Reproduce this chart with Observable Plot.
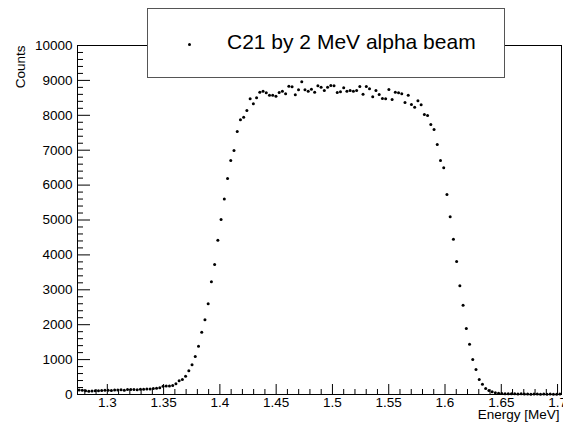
<!DOCTYPE html>
<html>
<head>
<meta charset="utf-8">
<script src="https://cdn.jsdelivr.net/npm/d3@7"></script>
<script src="https://cdn.jsdelivr.net/npm/@observablehq/plot@0.6"></script>
<style>
  html, body { margin: 0; padding: 0; background: #fff; overflow: hidden; }
  #wrap { position: relative; width: 563px; height: 425px; font-family: "Liberation Sans", Arial, sans-serif; }
  #legend { position: absolute; left: 147px; top: 8px; width: 358px; height: 70px; box-sizing: border-box;
            border: 1px solid #555; background: #fff; }
  #legend .dot { position: absolute; left: 40px; top: 34px; width: 3px; height: 3px; border-radius: 50%; background: #000; }
  #legend .txt { position: absolute; left: 79px; top: 21px; font-size: 21px; line-height: 24px; color: #000; white-space: nowrap; }
</style>
</head>
<body>
<div id="wrap">
  <div id="chart"></div>
  <div id="legend"><div class="dot"></div><div class="txt">C21 by 2 MeV alpha beam</div></div>
</div>
<script>
// Histogram range (MeV) and number of bins
const energyMin = 1.2735;
const energyMax = 1.7035;
const nBins = 150;

// Counts per bin, left to right
const flatCounts = [130, 120, 110, 95, 100, 105, 110, 115, 125, 120, 115, 130, 130, 135, 125, 140, 145, 140, 135, 150,
  150, 160, 155, 175, 180, 195, 235, 240, 245, 260];
const risingCounts = [306, 392, 430, 524, 679, 851, 1089, 1384, 1785, 2140, 2599, 3229, 3725, 4421, 5014, 5600];
const plateauCounts = [6189, 6705, 6991, 7536, 7871, 7946, 8138, 8472, 8330, 8501, 8662, 8691, 8644, 8576, 8576, 8548,
  8653, 8691, 8615, 8834, 8815, 8586, 8730, 8959, 8730, 8691, 8748, 8662, 8844, 8806, 8710, 8806, 8854, 8844, 8653,
  8672, 8787, 8691, 8710, 8691, 8710, 8825, 8605, 8825, 8758, 8529, 8710, 8596, 8481, 8472, 8739, 8453, 8662, 8644,
  8615, 8367, 8576, 8309, 8232, 8415, 8300, 8023, 7994, 7736, 7593, 7163, 6705, 6496];
const fallingCounts = [5731, 5091, 4450, 3811, 3115, 2559, 1891, 1441, 1003, 716, 430, 295, 172, 115, 77, 49];
const tailCounts = [35, 30, 25, 25, 20, 20, 15, 20, 15, 15, 10, 15, 12, 10, 15, 10, 12, 10, 10, 15];

// Tick labels
const xTickLabels = ["1.3", "1.35", "1.4", "1.45", "1.5", "1.55", "1.6", "1.65", "1.7"];
const yTickLabels = ["0", "1000", "2000", "3000", "4000", "5000", "6000", "7000", "8000", "9000", "10000"];

const counts = [...flatCounts, ...risingCounts, ...plateauCounts, ...fallingCounts, ...tailCounts];
const binWidth = (energyMax - energyMin) / nBins;
const data = counts.map((c, i) => ({energy: energyMin + (i + 0.5) * binWidth, counts: c}));

const xMajor = xTickLabels.map(Number);
const yMajor = yTickLabels.map(Number);
const xMinor = d3.range(128, 171).map(k => k / 100).filter(v => !xMajor.some(m => Math.abs(m - v) < 1e-9));
const yMinor = d3.range(0, 10001, 200).filter(v => v % 1000 !== 0);

const W = 563, H = 425, mL = 77, mR = 2, mT = 45, mB = 31;
const frameW = W - mL - mR, frameH = H - mT - mB;

const chart = Plot.plot({
  width: W, height: H,
  marginLeft: mL, marginRight: mR, marginTop: mT, marginBottom: mB,
  x: {domain: [energyMin, energyMax], label: null},
  y: {domain: [0, 10000], label: null},
  style: {fontFamily: "'Liberation Sans', Arial, sans-serif", fontSize: "13px", color: "#000", background: "#fff", overflow: "visible"},
  marks: [
    Plot.frame({stroke: "#000", strokeWidth: 1}),
    Plot.tickY(yMinor, {y: d => d, insetRight: frameW - 6, stroke: "#000"}),
    Plot.tickY(yMajor, {y: d => d, insetRight: frameW - 13, stroke: "#000"}),
    Plot.tickX(xMinor, {x: d => d, insetTop: frameH - 5, stroke: "#000"}),
    Plot.tickX(xMajor, {x: d => d, insetTop: frameH - 10, stroke: "#000"}),
    Plot.axisY({ticks: yMajor, tickSize: 0, tickPadding: 5, tickFormat: d => yTickLabels[yMajor.indexOf(d)], fontSize: 13.5}),
    Plot.axisX({ticks: xMajor, tickSize: 0, tickPadding: 3, tickFormat: d => xTickLabels[xMajor.findIndex(m => Math.abs(m - d) < 1e-9)], fontSize: 13.5}),
    Plot.dot(data, {x: "energy", y: "counts", r: 1.5, fill: "#000", stroke: null}),
    Plot.text(["Energy [MeV]"], {frameAnchor: "bottom-right", textAnchor: "end", lineAnchor: "bottom", dx: -2, dy: 24, fontSize: 13.5}),
    Plot.text(["Counts"], {frameAnchor: "top-left", rotate: -90, textAnchor: "end", lineAnchor: "bottom", dx: -53, fontSize: 13.5})
  ]
});
document.getElementById("chart").appendChild(chart);
</script>
</body>
</html>
